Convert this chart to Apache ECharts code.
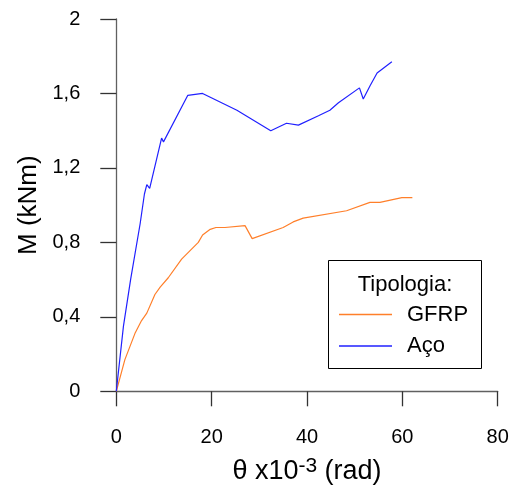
<!DOCTYPE html>
<html>
<head>
<meta charset="utf-8">
<script src="https://cdn.jsdelivr.net/npm/echarts@6/dist/echarts.min.js"></script>
<style>
  html, body { margin: 0; padding: 0; background: #fff; }
  #chart { width: 517px; height: 485px; }
</style>
</head>
<body>
<div id="chart"></div>
<script>
  // dados (theta x10^-3 rad, M kNm)
  const gfrpTheta = [0, 1.8, 3.9, 5.3, 6.4, 8.1, 9.2, 10.9, 13.7, 17.2, 18.1, 19.7, 20.9, 22.8, 27.0, 28.5, 35.0, 37.1, 39.2, 48.3, 53.2, 55.3, 59.9, 62.1];
  const gfrpM = [0, 0.17, 0.31, 0.38, 0.42, 0.52, 0.56, 0.61, 0.71, 0.80, 0.84, 0.87, 0.88, 0.88, 0.89, 0.82, 0.88, 0.91, 0.93, 0.97, 1.015, 1.015, 1.04, 1.04];
  const acoTheta = [0, 1.5, 3.0, 5.0, 5.9, 6.4, 6.7, 7.0, 9.5, 9.9, 15.0, 18.1, 25.3, 32.4, 35.7, 38.2, 42.4, 44.8, 46.6, 51.0, 51.8, 53.2, 54.7, 57.8];
  const acoM = [0, 0.35, 0.60, 0.90, 1.06, 1.11, 1.11, 1.09, 1.36, 1.34, 1.59, 1.60, 1.51, 1.40, 1.44, 1.43, 1.48, 1.51, 1.55, 1.63, 1.57, 1.64, 1.71, 1.77];
  const seriesNames = ['GFRP', 'Aço'];

  const font = 'Liberation Sans, Arial, sans-serif';
  const axisColor = '#606060';

  function pairs(xs, ys) {
    return xs.map((x, i) => [x, ys[i]]);
  }

  const chart = echarts.init(document.getElementById('chart'));
  chart.setOption({
    animation: false,
    grid: { left: 116.3, right: 19.3, top: 19, bottom: 93.7, outerBoundsMode: 'none' },
    xAxis: {
      type: 'value',
      min: 0, max: 80, interval: 20,
      name: '{m|θ x10}{s|-3}{m| (rad)}',
      nameLocation: 'middle',
      nameGap: 64,
      nameTextStyle: {
        rich: {
          m: { fontSize: 27, fontFamily: font, color: '#000' },
          s: { fontSize: 21, fontFamily: font, color: '#000', padding: [0, 0, 11, 0] }
        }
      },
      axisLine: { lineStyle: { color: axisColor, width: 1.3 } },
      axisTick: { inside: false, length: 15, lineStyle: { color: '#333', width: 1.3 } },
      axisLabel: { margin: 36, fontSize: 20, fontFamily: font, color: '#000' },
      splitLine: { show: false }
    },
    yAxis: {
      type: 'value',
      min: 0, max: 2, interval: 0.4,
      name: 'M (kNm)',
      nameLocation: 'middle',
      nameGap: 72,
      nameTextStyle: { fontSize: 26, fontFamily: font, color: '#000' },
      axisLine: { show: true, lineStyle: { color: axisColor, width: 1.3 } },
      axisTick: { show: true, inside: false, length: 16, lineStyle: { color: '#333', width: 1.3 } },
      axisLabel: {
        margin: 36, fontSize: 20, fontFamily: font, color: '#000',
        formatter: v => String(Math.round(v * 10) / 10).replace('.', ',')
      },
      splitLine: { show: false }
    },
    legend: {
      orient: 'vertical',
      left: 339,
      top: 303.5,
      padding: 0,
      icon: 'rect',
      itemWidth: 53,
      itemHeight: 1.3,
      itemGap: 9.5,
      data: seriesNames,
      textStyle: { fontSize: 22, fontFamily: font, color: '#000', padding: [0, 0, 0, 10] }
    },
    graphic: [
      {
        type: 'rect',
        shape: { x: 328.5, y: 260.5, width: 153, height: 108 },
        style: { fill: '#fff', stroke: '#000', lineWidth: 1 },
        z: 0
      },
      {
        type: 'text',
        x: 405, y: 285,
        style: {
          text: 'Tipologia:', fontSize: 22, fontFamily: font, fill: '#000',
          align: 'center', verticalAlign: 'middle'
        },
        z: 1
      }
    ],
    series: [
      {
        name: seriesNames[0],
        type: 'line',
        data: pairs(gfrpTheta, gfrpM),
        symbol: 'none',
        lineStyle: { color: '#ff7f2a', width: 1.2 },
        itemStyle: { color: '#ff7f2a' }
      },
      {
        name: seriesNames[1],
        type: 'line',
        data: pairs(acoTheta, acoM),
        symbol: 'none',
        lineStyle: { color: '#2020ff', width: 1.2 },
        itemStyle: { color: '#2020ff' }
      }
    ]
  });
</script>
</body>
</html>
